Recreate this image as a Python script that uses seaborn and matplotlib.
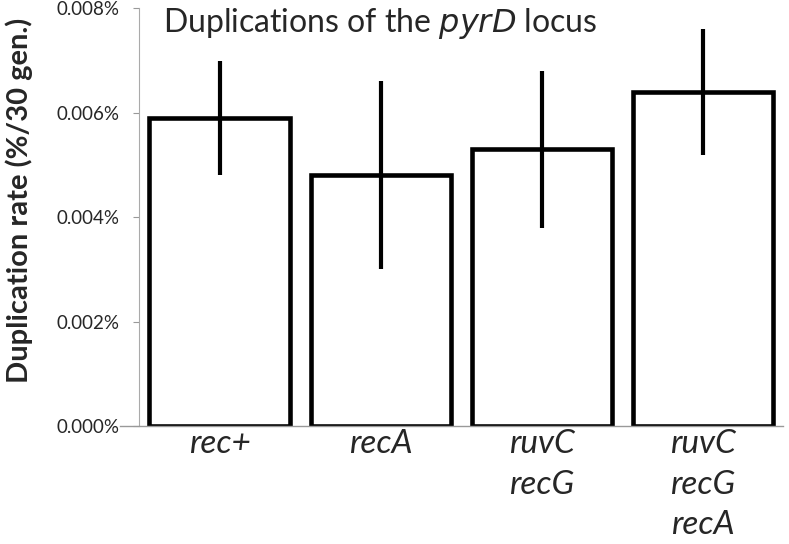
import matplotlib
matplotlib.use("Agg")
import matplotlib.pyplot as plt
import seaborn as sns
import pandas as pd
from matplotlib.ticker import FuncFormatter

strains = ["rec+", "recA", "ruvC\nrecG", "ruvC\nrecG\nrecA"]
rates = [0.0059, 0.0048, 0.0053, 0.0064]
errors = [0.0011, 0.0018, 0.0015, 0.0012]
yticks = [0.0, 0.002, 0.004, 0.006, 0.008]

sns.set_theme(style="white")
plt.rcParams['font.family'] = ['Lato', 'DejaVu Sans']

df = pd.DataFrame({"strain": strains, "rate": rates})

fig = plt.figure(figsize=(7.89, 5.44), dpi=100)
ax = fig.add_axes([0.1762, 0.2169, 0.8168, 0.7678])

sns.barplot(data=df, x="strain", y="rate", order=strains, color="white",
            edgecolor="black", linewidth=3.3, width=0.87, errorbar=None, ax=ax)
ax.errorbar(range(len(strains)), rates, yerr=errors, fmt="none",
            ecolor="black", elinewidth=3.0, capsize=0)

ax.set_xlim(-0.5, 3.5)
ax.set_ylim(0, 0.008)
ax.set_yticks(yticks)
ax.yaxis.set_major_formatter(FuncFormatter(lambda v, p: f"{v:.3f}%"))
ax.tick_params(axis="y", labelsize=13.5, length=4, width=0.8, color="#999999",
               left=True, pad=10)
ax.tick_params(axis="x", labelsize=24, length=0, pad=2)
for lab in ax.get_xticklabels():
    lab.set_fontstyle("italic")
    lab.set_linespacing(1.45)
    lab.set_verticalalignment("top")

for s in ["top", "right"]:
    ax.spines[s].set_visible(False)
ax.spines["left"].set_color("#aaaaaa")
ax.spines["left"].set_linewidth(0.8)
ax.spines["bottom"].set_color("#999999")
ax.spines["bottom"].set_linewidth(1.0)
ax.spines["bottom"].set_bounds(-0.62, 3.5)

ax.set_xlabel("")
ax.set_ylabel("Duplication rate (%/30 gen.)", fontsize=21, fontweight="bold")
ax.yaxis.set_label_coords(-0.165, 0.54)

ax.text(0.037, 0.9426, "Duplications of the $\\it{pyrD}$ locus", transform=ax.transAxes,
        fontsize=23, va="baseline", ha="left")

fig.savefig("out.png", dpi=100)
